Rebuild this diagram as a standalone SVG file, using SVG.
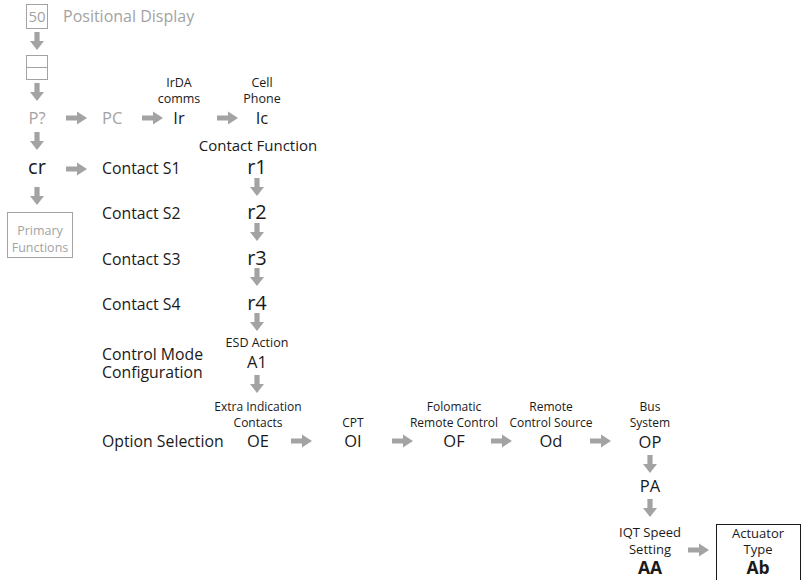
<svg xmlns="http://www.w3.org/2000/svg" width="802" height="580" viewBox="0 0 802 580">
<style>
text{font-family:"Open Sans","Noto Sans","Liberation Sans",sans-serif;fill:#1a1a1a}
.g{fill:#a3a3a3}
.m{text-anchor:middle}
.s{font-size:12px}
.t{font-size:12.5px}
.u{font-size:13px}
.l{font-size:15.8px}
.c{font-size:16.5px}
.r{font-size:20px}
.b{font-weight:bold;font-size:17.5px}
.box{fill:#fff;stroke:#a3a3a3;stroke-width:1}
.arr{fill:#a3a3a3}
</style>
<defs>
<path id="ad" d="M-2.6,0 H2.6 V9 H7 L0,18 L-7,9 H-2.6 Z"/>
<path id="ar" d="M0,-2.6 H11 V-6.5 L21,0 L11,6.5 V2.6 H0 Z"/>
</defs>
<rect width="802" height="580" fill="#fff"/>
<g id="connectors" class="arr">
<use href="#ad" x="37" y="32"/>
<use href="#ad" x="37" y="83"/>
<use href="#ar" x="66" y="118"/>
<use href="#ar" x="142" y="118"/>
<use href="#ar" x="217" y="118"/>
<use href="#ad" x="37" y="132"/>
<use href="#ar" x="66" y="169"/>
<use href="#ad" x="37" y="187"/>
<use href="#ad" x="257" y="178"/>
<use href="#ad" x="257" y="223"/>
<use href="#ad" x="257" y="268"/>
<use href="#ad" x="257" y="313"/>
<use href="#ad" x="257" y="375"/>
<use href="#ar" x="291" y="441"/>
<use href="#ar" x="392" y="441"/>
<use href="#ar" x="491" y="441"/>
<use href="#ar" x="590" y="441"/>
<use href="#ad" x="650" y="455"/>
<use href="#ad" x="650" y="499"/>
<use href="#ar" x="688" y="550"/>
</g>
<g id="positional-display">
<rect class="box" x="26.5" y="4.5" width="21" height="24"/>
<text class="g m" x="37" y="22" style="font-size:15px">50</text>
<text class="g" x="63" y="22" style="font-size:16px">Positional Display</text>
</g>
<g id="display-box">
<rect class="box" x="26.5" y="55.5" width="21" height="24"/>
<line x1="26.5" y1="67.5" x2="47.5" y2="67.5" stroke="#a3a3a3"/>
</g>
<g id="p-query"><text class="g m c" x="37" y="124">P?</text></g>
<g id="pc"><text class="g c" x="102" y="124">PC</text></g>
<g id="ir">
<text class="m t" x="179" y="87">IrDA</text>
<text class="m t" x="179" y="103">comms</text>
<text class="m c" x="179" y="124">Ir</text>
</g>
<g id="ic">
<text class="m t" x="262" y="87">Cell</text>
<text class="m t" x="262" y="103">Phone</text>
<text class="m c" x="262" y="124">Ic</text>
</g>
<g id="cr"><text class="m r" x="37" y="174">cr</text></g>
<g id="primary-functions">
<rect class="box" x="7.5" y="212.5" width="65" height="45"/>
<text class="g m t" x="40" y="235">Primary</text>
<text class="g m t" x="40" y="252">Functions</text>
</g>
<g id="contact-labels">
<text class="l" x="102" y="174">Contact S1</text>
<text class="l" x="102" y="219">Contact S2</text>
<text class="l" x="102" y="265">Contact S3</text>
<text class="l" x="102" y="310">Contact S4</text>
</g>
<g id="r1">
<text class="m" x="258" y="151" style="font-size:15px">Contact Function</text>
<text class="m r" x="257" y="174">r1</text>
</g>
<g id="r2"><text class="m r" x="257" y="219">r2</text></g>
<g id="r3"><text class="m r" x="257" y="265">r3</text></g>
<g id="r4"><text class="m r" x="257" y="310">r4</text></g>
<g id="a1">
<text class="l" x="102" y="360">Control Mode</text>
<text class="l" x="102" y="378">Configuration</text>
<text class="m t" x="257" y="347">ESD Action</text>
<text class="m c" x="257" y="368">A1</text>
</g>
<g id="oe">
<text class="l" x="102" y="447">Option Selection</text>
<text class="m s" x="258" y="411">Extra Indication</text>
<text class="m s" x="258" y="427">Contacts</text>
<text class="m c" x="258" y="447">OE</text>
</g>
<g id="oi">
<text class="m s" x="353" y="427">CPT</text>
<text class="m c" x="353" y="447">OI</text>
</g>
<g id="of">
<text class="m s" x="454" y="411">Folomatic</text>
<text class="m s" x="454" y="427">Remote Control</text>
<text class="m c" x="454" y="447">OF</text>
</g>
<g id="od">
<text class="m s" x="551" y="411">Remote</text>
<text class="m s" x="551" y="427">Control Source</text>
<text class="m c" x="551" y="447">Od</text>
</g>
<g id="op">
<text class="m s" x="650" y="411">Bus</text>
<text class="m s" x="650" y="427">System</text>
<text class="m c" x="650" y="448">OP</text>
</g>
<g id="pa"><text class="m c" x="650" y="492">PA</text></g>
<g id="aa">
<text class="m u" x="650" y="537">IQT Speed</text>
<text class="m u" x="650" y="554">Setting</text>
<text class="m b" x="650" y="574">AA</text>
</g>
<g id="ab">
<rect x="716.5" y="524.5" width="84" height="60" fill="#fff" stroke="#1a1a1a" stroke-width="1"/>
<text class="m u" x="758" y="538">Actuator</text>
<text class="m u" x="758" y="554">Type</text>
<text class="m b" x="758" y="574">Ab</text>
</g>
</svg>
